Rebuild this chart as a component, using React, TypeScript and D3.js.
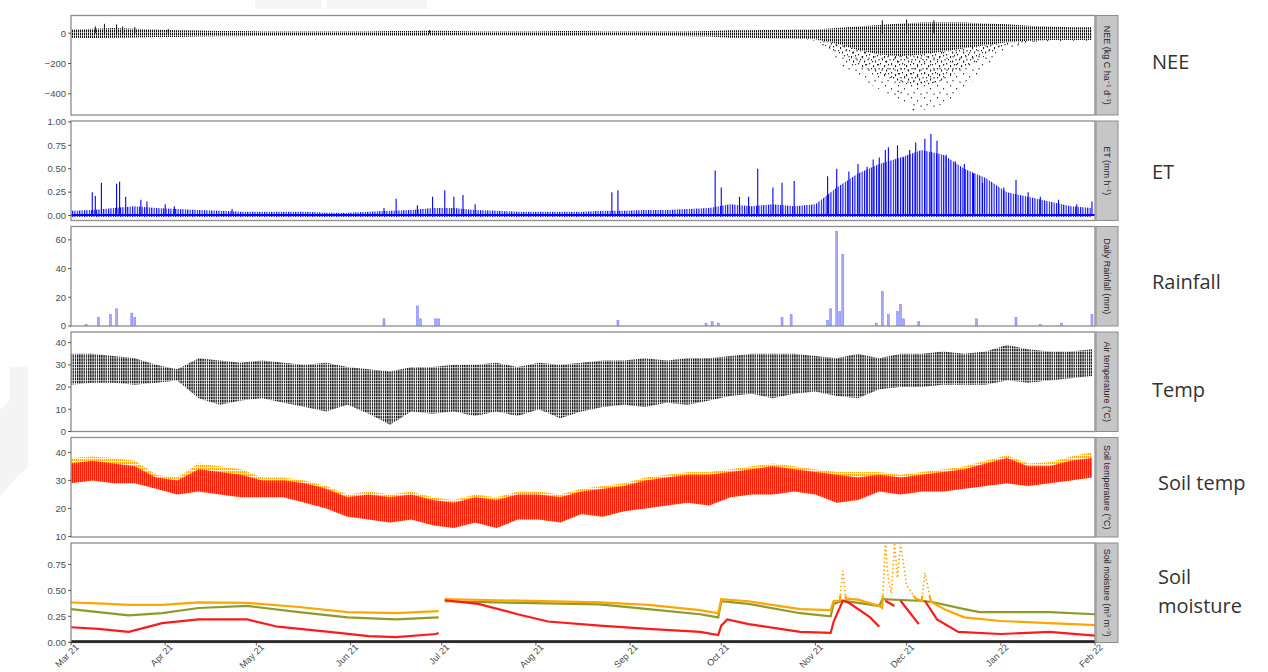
import React from "react";
import * as d3 from "d3";

const parse = d3.utcParse("%Y-%m-%d");
const start = parse("2021-03-01") as Date;
const end = parse("2022-02-01") as Date;
// one sample per week, Mar 1 2021 .. Jan 31 2022 (49 values)
const weeks = d3.utcDay.range(start, end, 7);

// NEE (kg C ha-1 d-1) weekly envelopes
const neeHigh = [25, 30, 35, 30, 25, 20, 18, 15, 15, 12, 12, 12, 12, 12, 12, 14, 14, 16, 14, 12, 12, 12, 12, 14, 14, 12, 12, 12, 12, 12, 14, 20, 20, 22, 25, 25, 35, 45, 55, 65, 70, 70, 70, 65, 60, 50, 45, 40, 40];
const neeLow = [-30, -32, -30, -28, -25, -25, -22, -20, -20, -18, -16, -16, -15, -15, -16, -18, -18, -16, -15, -15, -15, -16, -16, -18, -16, -15, -15, -16, -18, -20, -22, -30, -30, -35, -35, -40, -70, -110, -140, -150, -140, -120, -100, -80, -60, -50, -45, -45, -45];
const neeMid = [-30, -32, -30, -28, -25, -25, -22, -20, -20, -18, -16, -16, -15, -15, -16, -18, -18, -16, -15, -15, -15, -16, -16, -18, -16, -15, -15, -16, -18, -20, -22, -30, -30, -35, -35, -45, -130, -220, -280, -330, -350, -310, -230, -150, -80, -60, -50, -48, -48];
const neeMin = [-30, -32, -30, -28, -25, -25, -22, -20, -20, -18, -16, -16, -15, -15, -16, -18, -18, -16, -15, -15, -15, -16, -16, -18, -16, -15, -15, -16, -18, -20, -22, -30, -30, -35, -35, -50, -190, -290, -370, -450, -510, -470, -380, -230, -110, -70, -55, -50, -50];
const neeSpikes: [string, number][] = [
  ["2021-03-09", 45], ["2021-03-12", 62], ["2021-03-16", 58], ["2021-03-18", 45], ["2021-03-22", 40],
  ["2021-04-02", 28], ["2021-06-27", 20], ["2021-11-23", 85], ["2021-12-01", 90], ["2021-12-10", 85],
];
const neeOutliers: [string, number][] = [["2021-11-10", -210], ["2021-11-28", -380], ["2021-12-03", -500]];

// ET (mm h-1)
const etEnv = [0.05, 0.06, 0.08, 0.1, 0.08, 0.07, 0.06, 0.05, 0.04, 0.04, 0.04, 0.04, 0.03, 0.03, 0.04, 0.05, 0.06, 0.08, 0.08, 0.06, 0.05, 0.04, 0.04, 0.04, 0.04, 0.05, 0.05, 0.06, 0.06, 0.07, 0.08, 0.12, 0.1, 0.12, 0.1, 0.12, 0.3, 0.45, 0.55, 0.62, 0.7, 0.65, 0.5, 0.4, 0.25, 0.2, 0.15, 0.1, 0.08];
const etSpikes: [string, number][] = [
  ["2021-03-08", 0.25], ["2021-03-09", 0.21], ["2021-03-11", 0.35], ["2021-03-16", 0.34], ["2021-03-17", 0.36],
  ["2021-03-19", 0.2], ["2021-03-24", 0.17], ["2021-03-26", 0.15], ["2021-04-01", 0.12], ["2021-04-04", 0.1],
  ["2021-04-23", 0.07], ["2021-06-12", 0.08], ["2021-06-16", 0.18], ["2021-06-23", 0.11], ["2021-06-28", 0.2],
  ["2021-07-02", 0.27], ["2021-07-05", 0.2], ["2021-07-08", 0.22], ["2021-07-12", 0.12], ["2021-08-26", 0.25],
  ["2021-08-28", 0.27], ["2021-09-29", 0.48], ["2021-10-01", 0.3], ["2021-10-07", 0.2], ["2021-10-10", 0.2],
  ["2021-10-13", 0.5], ["2021-10-18", 0.3], ["2021-10-21", 0.35], ["2021-10-25", 0.37], ["2021-11-05", 0.42],
  ["2021-11-08", 0.5], ["2021-11-12", 0.47], ["2021-11-15", 0.55], ["2021-11-18", 0.52], ["2021-11-20", 0.6],
  ["2021-11-22", 0.62], ["2021-11-24", 0.7], ["2021-11-25", 0.73], ["2021-11-28", 0.75], ["2021-11-30", 0.62],
  ["2021-12-02", 0.7], ["2021-12-04", 0.78], ["2021-12-07", 0.82], ["2021-12-09", 0.87], ["2021-12-11", 0.8],
  ["2021-12-14", 0.65], ["2021-12-17", 0.58], ["2021-12-20", 0.55], ["2021-12-23", 0.45], ["2021-12-26", 0.35],
  ["2022-01-02", 0.3], ["2022-01-06", 0.38], ["2022-01-10", 0.25], ["2022-01-14", 0.2], ["2022-01-20", 0.17],
  ["2022-01-26", 0.12], ["2022-01-31", 0.15],
];

// Daily rainfall (mm)
const rainDays = ["2021-03-06", "2021-03-10", "2021-03-14", "2021-03-16", "2021-03-21", "2021-03-22", "2021-06-12", "2021-06-23", "2021-06-24", "2021-06-29", "2021-06-30", "2021-08-28", "2021-09-26", "2021-09-28", "2021-09-30", "2021-10-21", "2021-10-24", "2021-11-05", "2021-11-06", "2021-11-08", "2021-11-09", "2021-11-10", "2021-11-21", "2021-11-23", "2021-11-25", "2021-11-28", "2021-11-29", "2021-11-30", "2021-12-05", "2021-12-24", "2022-01-06", "2022-01-14", "2022-01-21", "2022-01-31"];
const rainMm = [1, 6, 8, 12, 9, 6, 5, 14, 5, 5, 5, 4, 2, 3, 2, 6, 8, 4, 12, 66, 10, 50, 2, 24, 8, 10, 15, 5, 3, 5, 6, 1, 2, 8];

// Air temperature (°C) weekly envelopes
const airTop = [35, 35, 34, 33, 30, 28, 33, 32, 31, 32, 31, 30, 31, 29, 28, 27, 29, 29, 30, 30, 31, 29, 31, 30, 31, 32, 32, 33, 32, 33, 33, 34, 35, 35, 35, 34, 33, 35, 33, 35, 35, 36, 35, 36, 39, 37, 36, 36, 37];
const airBottom = [21, 22, 22, 21, 22, 23, 15, 12, 14, 15, 13, 11, 9, 12, 8, 3, 9, 8, 9, 7, 9, 7, 10, 6, 9, 11, 12, 11, 13, 12, 14, 16, 17, 15, 17, 18, 16, 15, 19, 20, 20, 21, 21, 21, 23, 22, 23, 24, 25];

// Soil temperature (°C) weekly envelopes
const soilRedTop = [36, 37, 36, 35, 31, 30, 34, 33, 32, 30, 30, 29, 27, 24, 25, 24, 25, 23, 22, 24, 23, 25, 25, 24, 26, 27, 28, 30, 31, 32, 32, 33, 34, 35, 34, 33, 32, 31, 32, 31, 32, 33, 34, 36, 38, 35, 35, 37, 38];
const soilRedBottom = [29, 30, 29, 29, 27, 25, 26, 25, 24, 24, 24, 22, 20, 17, 16, 15, 16, 14, 13, 15, 13, 16, 16, 15, 18, 17, 19, 20, 21, 22, 21, 24, 25, 25, 26, 25, 22, 23, 26, 25, 26, 26, 27, 28, 29, 28, 29, 30, 31];
const soilOrangeTop = [38, 38.5, 38, 37, 32, 31, 36, 35, 34, 31, 31, 30, 28, 25, 26, 25, 26, 24, 23, 25, 24, 26, 26, 25, 27, 28, 29, 31, 32, 33, 33, 34, 35, 36, 35, 34, 33, 33, 33, 32, 33, 34, 35, 37, 39, 36, 36.5, 38.5, 40];

// Soil moisture (m3 m-3), null = gap in the record
const smOrange: [string, number | null][] = [
  ["2021-03-01", 0.383], ["2021-03-10", 0.375], ["2021-03-20", 0.36], ["2021-03-31", 0.36], ["2021-04-12", 0.385],
  ["2021-04-28", 0.38], ["2021-05-15", 0.34], ["2021-05-31", 0.29], ["2021-06-16", 0.28], ["2021-06-30", 0.3],
  ["2021-07-01", null], ["2021-07-02", 0.415], ["2021-07-19", 0.405], ["2021-08-22", 0.385], ["2021-09-07", 0.36],
  ["2021-09-24", 0.31], ["2021-09-30", 0.28], ["2021-10-01", 0.415], ["2021-10-10", 0.395], ["2021-10-27", 0.32],
  ["2021-11-06", 0.31], ["2021-11-07", 0.4], ["2021-11-09", 0.4], ["2021-11-10", 0.69], ["2021-11-11", 0.42],
  ["2021-11-15", 0.41], ["2021-11-22", 0.35], ["2021-11-23", 0.33], ["2021-11-24", 0.96], ["2021-11-25", 0.6],
  ["2021-11-26", 0.47], ["2021-11-27", 0.96], ["2021-11-28", 0.62], ["2021-11-29", 0.95], ["2021-12-01", 0.55],
  ["2021-12-04", 0.42], ["2021-12-06", 0.4], ["2021-12-07", 0.67], ["2021-12-09", 0.39], ["2021-12-14", 0.31],
  ["2021-12-20", 0.24], ["2022-01-01", 0.205], ["2022-01-17", 0.185], ["2022-02-01", 0.165],
];
const smOlive: [string, number | null][] = [
  ["2021-03-01", 0.32], ["2021-03-10", 0.29], ["2021-03-20", 0.26], ["2021-03-31", 0.28], ["2021-04-12", 0.33],
  ["2021-04-28", 0.35], ["2021-05-15", 0.29], ["2021-05-31", 0.24], ["2021-06-16", 0.22], ["2021-06-30", 0.24],
  ["2021-07-01", null], ["2021-07-02", 0.395], ["2021-07-19", 0.385], ["2021-08-22", 0.365], ["2021-09-07", 0.32],
  ["2021-09-24", 0.27], ["2021-09-30", 0.24], ["2021-10-01", 0.395], ["2021-10-10", 0.37], ["2021-10-27", 0.28],
  ["2021-11-06", 0.25], ["2021-11-07", 0.37], ["2021-11-10", 0.4], ["2021-11-22", 0.35], ["2021-11-23", 0.415],
  ["2021-12-05", 0.4], ["2021-12-09", 0.39], ["2021-12-20", 0.32], ["2021-12-25", 0.29], ["2022-01-01", 0.29],
  ["2022-01-17", 0.29], ["2022-02-01", 0.27],
];
const smRed: [string, number | null][] = [
  ["2021-03-01", 0.145], ["2021-03-10", 0.13], ["2021-03-20", 0.1], ["2021-03-31", 0.185], ["2021-04-12", 0.22],
  ["2021-04-28", 0.22], ["2021-05-08", 0.15], ["2021-05-25", 0.1], ["2021-06-07", 0.06], ["2021-06-16", 0.05],
  ["2021-06-29", 0.08], ["2021-06-30", 0.09], ["2021-07-01", null], ["2021-07-02", 0.405], ["2021-07-13", 0.37],
  ["2021-07-26", 0.27], ["2021-08-05", 0.2], ["2021-08-22", 0.16], ["2021-09-07", 0.13], ["2021-09-24", 0.1],
  ["2021-09-30", 0.07], ["2021-10-01", 0.16], ["2021-10-03", 0.22], ["2021-10-10", 0.175], ["2021-10-27", 0.1],
  ["2021-11-06", 0.09], ["2021-11-07", 0.2], ["2021-11-10", 0.4], ["2021-11-12", 0.38], ["2021-11-19", 0.24],
  ["2021-11-22", 0.15], ["2021-11-23", null], ["2021-11-24", 0.4], ["2021-11-27", 0.35], ["2021-11-28", null],
  ["2021-11-29", 0.4], ["2021-12-05", 0.175], ["2021-12-06", null], ["2021-12-07", 0.4], ["2021-12-11", 0.22],
  ["2021-12-18", 0.1], ["2022-01-01", 0.08], ["2022-01-17", 0.1], ["2022-02-01", 0.065],
];
const smDeep: [string, number | null][] = [["2021-03-01", 0.004], ["2022-02-01", 0.004]];

const panelNames = ["NEE", "ET", "Rainfall", "Temp", "Soil temp", "Soil moisture"];

const plotLeft = 71;
const plotRight = 1095;
const stripW = 22;
const top0 = 15.5;
const step = 105.5;
const panelH = 99.5;
const axisFont = "'Liberation Sans', Arial, sans-serif";

const x = d3.scaleUtc().domain([start, end]).range([plotLeft, plotRight]);

const sup = (s: string) => (
  <tspan baselineShift="super" fontSize={6}>{s}</tspan>
);

const panels = [
  { domain: [-540, 117], ticks: [0, -200, -400], fmt: d3.format("d"), strip: <>NEE (kg C ha{sup("−1")} d{sup("−1")})</> },
  { domain: [-0.053, 1.01], ticks: [0, 0.25, 0.5, 0.75, 1], fmt: d3.format(".2f"), strip: <>ET (mm h{sup("−1")})</> },
  { domain: [0, 69.3], ticks: [0, 20, 40, 60], fmt: d3.format("d"), strip: <>Daily Rainfall (mm)</> },
  { domain: [0, 44.8], ticks: [0, 10, 20, 30, 40], fmt: d3.format("d"), strip: <>Air temperature (°C)</> },
  { domain: [9.8, 45.3], ticks: [10, 20, 30, 40], fmt: d3.format("d"), strip: <>Soil temperature (°C)</> },
  { domain: [-0.002, 0.956], ticks: [0, 0.25, 0.5, 0.75], fmt: d3.format(".2f"), strip: <>Soil moisture (m{sup("3")} m{sup("−3")})</> },
];

function band(y: d3.ScaleLinear<number, number>, hi: number[], lo: number[]) {
  return d3
    .area<number>()
    .x((_, i) => x(weeks[i]))
    .y0((_, i) => y(lo[i]))
    .y1((d) => y(d))(hi) as string;
}

function series(y: d3.ScaleLinear<number, number>, pts: [string, number | null][]) {
  return d3
    .line<[string, number | null]>()
    .defined((d) => d[1] !== null)
    .x((d) => x(parse(d[0]) as Date))
    .y((d) => y(d[1] as number))(pts) as string;
}

export default function App() {
  const ys = panels.map((p, i) =>
    d3.scaleLinear().domain(p.domain).range([top0 + i * step + panelH, top0 + i * step])
  );
  const [yNee, yEt, yRain, yAir, ySoil, ySm] = ys;
  const months = x.ticks(d3.utcMonth.every(1) as d3.TimeInterval);
  const fmtMonth = d3.utcFormat("%b %y");
  const bottom = top0 + 5 * step + panelH;
  const smTop = top0 + 5 * step;
  const spikeCut = ySm(0.45);

  return (
    <svg width={1268} height={672} style={{ position: "absolute", left: 0, top: 0, background: "#fff" }}>
      <defs>
        <pattern id="pNee" width="2" height="3" patternUnits="userSpaceOnUse">
          <rect width="1.1" height="2.5" fill="#111" />
        </pattern>
        <pattern id="pNeeMid" width="11" height="9" patternUnits="userSpaceOnUse">
          <rect x="0" y="0" width="1.1" height="1.4" fill="#222" />
          <rect x="4" y="2" width="1.1" height="2.2" fill="#222" />
          <rect x="8" y="1" width="1.1" height="1.4" fill="#222" />
          <rect x="2" y="5" width="1.1" height="1.4" fill="#222" />
          <rect x="6" y="6.5" width="1.1" height="2" fill="#222" />
          <rect x="9.5" y="5" width="1.1" height="1.4" fill="#222" />
        </pattern>
        <pattern id="pNeeSparse" width="13" height="12" patternUnits="userSpaceOnUse">
          <rect x="1" y="1" width="1.1" height="1.4" fill="#333" />
          <rect x="7" y="4" width="1.1" height="1.4" fill="#333" />
          <rect x="3.5" y="8" width="1.1" height="1.4" fill="#333" />
          <rect x="10.5" y="9.5" width="1.1" height="1.4" fill="#333" />
        </pattern>
        <pattern id="pEt" width="2.4" height="4" patternUnits="userSpaceOnUse">
          <rect width="1.1" height="4" fill="#0000ff" />
        </pattern>
        <pattern id="pAir" width="2.2" height="3.2" patternUnits="userSpaceOnUse">
          <rect width="1.3" height="2.7" fill="#111" />
        </pattern>
        <pattern id="pSoilRed" width="2" height="4" patternUnits="userSpaceOnUse">
          <rect width="1.6" height="4" fill="#ff1a00" />
        </pattern>
        <pattern id="pSoilOrange" width="2" height="3" patternUnits="userSpaceOnUse">
          <rect width="1.3" height="2.2" fill="#ffa500" />
        </pattern>
        {panels.map((_, i) => (
          <clipPath id={`clip${i}`} key={i}>
            <rect x={plotLeft} y={top0 + i * step} width={plotRight - plotLeft} height={panelH} />
          </clipPath>
        ))}
        <clipPath id="smLow">
          <rect x={plotLeft} y={spikeCut} width={plotRight - plotLeft} height={bottom - spikeCut} />
        </clipPath>
        <clipPath id="smHigh">
          <rect x={plotLeft} y={smTop} width={plotRight - plotLeft} height={spikeCut - smTop} />
        </clipPath>
      </defs>

      {/* faint screenshot artefacts */}
      <rect x={255} y={0} width={67} height={9} fill="#f5f5f5" />
      <rect x={327} y={0} width={100} height={9} fill="#f5f5f5" />
      <polygon points="10,367 28,367 28,468 18,476 0,496 0,410 10,400" fill="#f4f4f4" />

      {/* NEE */}
      <g clipPath="url(#clip0)">
        <path d={band(yNee, neeLow, neeMin)} fill="url(#pNeeSparse)" />
        <path d={band(yNee, neeLow, neeMid)} fill="url(#pNeeMid)" />
        <path d={band(yNee, neeHigh, neeLow)} fill="url(#pNee)" />
        {neeSpikes.map(([d, v], i) => (
          <line key={i} x1={x(parse(d) as Date)} x2={x(parse(d) as Date)} y1={yNee(0)} y2={yNee(v)} stroke="#111" strokeWidth={1} />
        ))}
        {neeOutliers.map(([d, v], i) => (
          <rect key={i} x={x(parse(d) as Date)} y={yNee(v)} width={1.3} height={1.3} fill="#222" />
        ))}
      </g>

      {/* ET */}
      <g clipPath="url(#clip1)">
        <path d={band(yEt, etEnv, etEnv.map(() => -0.015))} fill="url(#pEt)" />
        <line x1={plotLeft} x2={plotRight} y1={yEt(0.005)} y2={yEt(0.005)} stroke="#0000ff" strokeWidth={2} />
        {etSpikes.map(([d, v], i) => (
          <line key={i} x1={x(parse(d) as Date)} x2={x(parse(d) as Date)} y1={yEt(0)} y2={yEt(v)} stroke="#0000ff" strokeWidth={1.1} />
        ))}
      </g>

      {/* Rainfall */}
      <g clipPath="url(#clip2)">
        {rainDays.map((d, i) => (
          <rect
            key={i}
            x={x(parse(d) as Date) - 1}
            y={yRain(rainMm[i])}
            width={2}
            height={yRain(0) - yRain(rainMm[i])}
            fill="#a8a8ff"
            stroke="#7a7aff"
            strokeWidth={0.5}
          />
        ))}
      </g>

      {/* Air temperature */}
      <g clipPath="url(#clip3)">
        <path d={band(yAir, airTop, airBottom)} fill="url(#pAir)" />
      </g>

      {/* Soil temperature */}
      <g clipPath="url(#clip4)">
        <path d={band(ySoil, soilOrangeTop, soilRedBottom)} fill="url(#pSoilOrange)" />
        <path d={band(ySoil, soilRedTop, soilRedBottom)} fill="url(#pSoilRed)" />
      </g>

      {/* Soil moisture */}
      <g clipPath="url(#clip5)" fill="none">
        <path d={series(ySm, smOlive)} stroke="#8f9a2a" strokeWidth={2.2} />
        <g clipPath="url(#smLow)">
          <path d={series(ySm, smOrange)} stroke="#ffa500" strokeWidth={2.2} />
        </g>
        <g clipPath="url(#smHigh)">
          <path d={series(ySm, smOrange)} stroke="#ffa500" strokeWidth={1.6} strokeDasharray="1.5 2.5" />
        </g>
        <path d={series(ySm, smRed)} stroke="#ff1a1a" strokeWidth={2.2} />
        <path d={series(ySm, smDeep)} stroke="#111" strokeWidth={3.5} />
      </g>

      {/* frames, y axes, strips */}
      {panels.map((p, i) => {
        const t = top0 + i * step;
        const y = ys[i];
        return (
          <g key={i}>
            <rect x={plotLeft} y={t} width={plotRight - plotLeft} height={panelH} fill="none" stroke="#8c8c8c" strokeWidth={1.3} />
            {p.ticks.map((v) => (
              <g key={v} transform={`translate(0,${y(v)})`}>
                <line x1={plotLeft - 3} x2={plotLeft} stroke="#333" strokeWidth={0.8} />
                <text x={plotLeft - 5} dy="0.35em" textAnchor="end" fontSize={9.5} fill="#4d4d4d" fontFamily={axisFont}>
                  {p.fmt(v)}
                </text>
              </g>
            ))}
            <rect x={plotRight + 1} y={t} width={stripW} height={panelH} fill="#c6c6c6" stroke="#8c8c8c" strokeWidth={1} />
            <text
              transform={`translate(${plotRight + 1 + stripW / 2},${t + panelH / 2}) rotate(90)`}
              textAnchor="middle"
              dy="0.35em"
              fontSize={9}
              fill="#262626"
              fontFamily={axisFont}
            >
              {p.strip}
            </text>
            <text
              x={i >= 4 ? 1158 : 1152}
              y={[62, 172, 282, 390, 483, 577][i]}
              dy="0.35em"
              fontSize={20}
              fill="#333"
              fontFamily="'Open Sans', sans-serif"
            >
              {i === 5 ? (
                <>
                  <tspan x={1158}>Soil</tspan>
                  <tspan x={1158} dy="1.45em">moisture</tspan>
                </>
              ) : (
                panelNames[i]
              )}
            </text>
          </g>
        );
      })}

      {/* x axis */}
      <line x1={plotLeft} x2={plotRight} y1={bottom} y2={bottom} stroke="#333" strokeWidth={1} />
      {months.map((m, i) => (
        <g key={i} transform={`translate(${x(m)},${bottom})`}>
          <line y1={0} y2={3} stroke="#333" strokeWidth={0.8} />
          <text
            transform="translate(6,3) rotate(-45)"
            textAnchor="end"
            dy="0.35em"
            fontSize={9.2}
            fill="#4d4d4d"
            fontFamily={axisFont}
          >
            {fmtMonth(m)}
          </text>
        </g>
      ))}
    </svg>
  );
}
